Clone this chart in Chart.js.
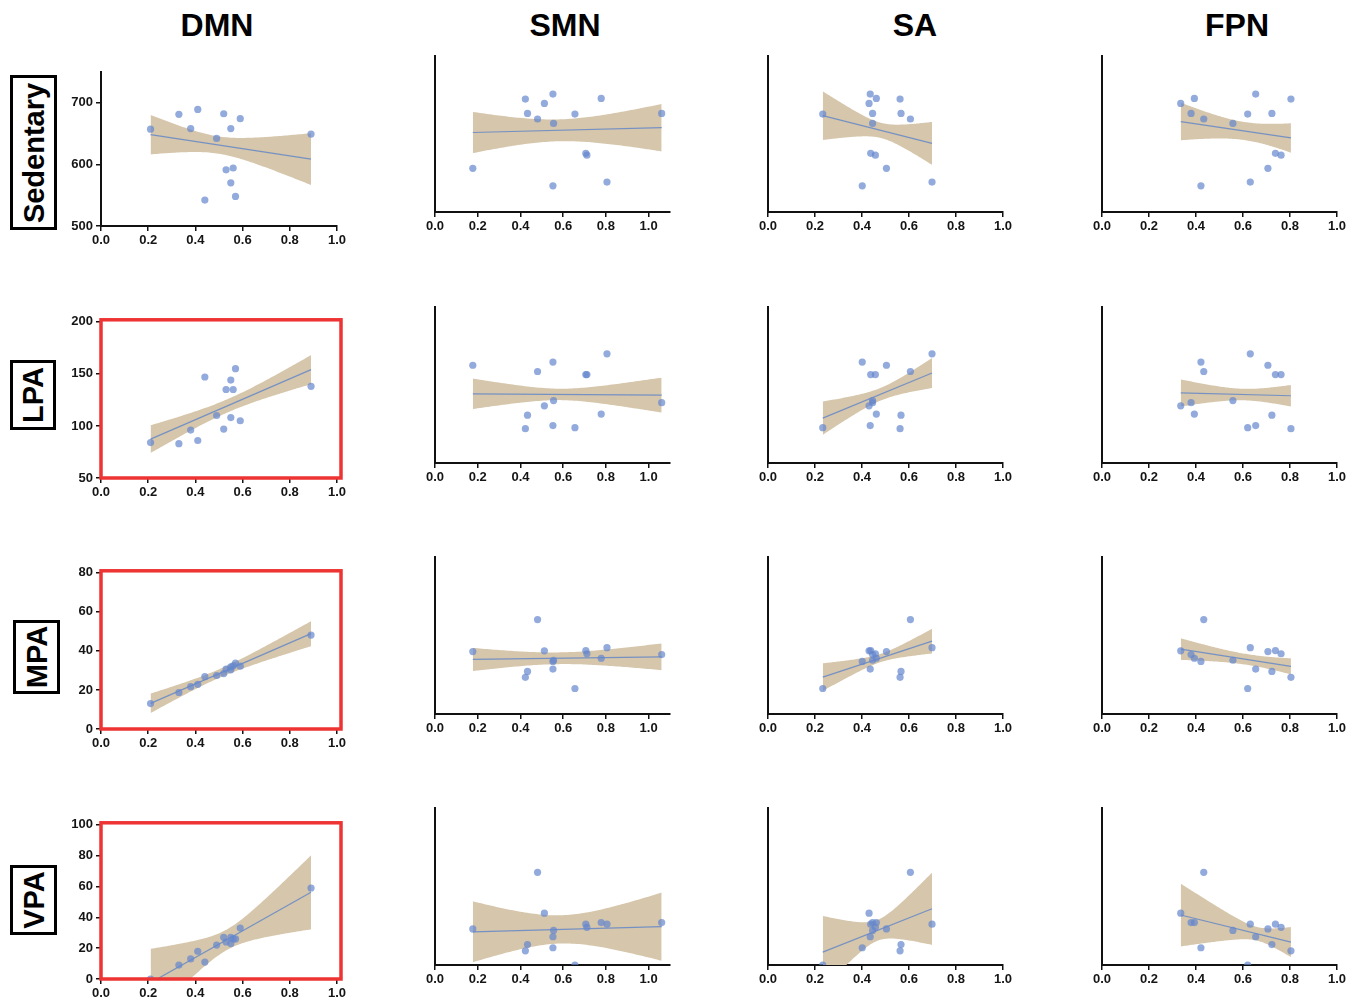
<!DOCTYPE html>
<html><head><meta charset="utf-8">
<script src="https://cdn.jsdelivr.net/npm/chart.js@4.4.1/dist/chart.umd.min.js"></script>
<style>
body{margin:0;background:#fff;width:1354px;height:1002px;position:relative;overflow:hidden;font-family:"Liberation Sans",Arial,sans-serif;}
.title{position:absolute;font-weight:bold;font-size:32px;color:#000;transform:translate(-50%,-50%);white-space:nowrap}
.rowlab{position:absolute;border:3px solid #000;box-sizing:border-box;}
.rowlab span{position:absolute;left:50%;top:50%;transform:translate(-50%,-50%) rotate(-90deg);font-weight:bold;font-size:29px;white-space:nowrap;color:#000}
canvas{position:absolute}
</style></head><body>
<script>
// ---------- DATA ----------
const networks = ['DMN', 'SMN', 'SA', 'FPN'];
const activities = ['Sedentary', 'LPA', 'MPA', 'VPA'];
// functional connectivity per participant (same participant order in every array)
const fcDMN = [0.21, 0.33, 0.38, 0.41, 0.44, 0.49, 0.52, 0.53, 0.55, 0.55, 0.56, 0.57, 0.59, 0.89];
const fcSMN = [0.655, 0.423, 0.433, 0.552, 0.552, 0.555, 0.778, 0.711, 1.061, 0.177, 0.706, 0.805, 0.512, 0.48];
const fcSA  = [0.233, 0.562, 0.566, 0.435, 0.401, 0.445, 0.461, 0.457, 0.445, 0.504, 0.437, 0.698, 0.43, 0.606];
const fcFPN = [0.62, 0.804, 0.723, 0.654, 0.421, 0.557, 0.393, 0.762, 0.379, 0.706, 0.738, 0.631, 0.335, 0.433];
// activity minutes per participant
const sedentary = [657, 681, 658, 689, 542, 642, 682, 591, 658, 570, 594, 548, 674, 649];
const lpa = [84, 83, 96, 86, 147, 110, 97, 135, 108, 144, 135, 155, 105, 138];
const mpa = [13, 18.7, 21.7, 22.9, 26.8, 27.4, 28.4, 30.7, 30.3, 31.8, 32.3, 33.8, 32.2, 48.1];
const vpa = [0, 9, 13, 18, 11, 22, 27, 24, 27, 23, 26, 26, 33, 59];
// confidence-band half-widths (rows: activities, cols: networks)
// at the lowest x, at the mean x, and at the highest x of each panel
const bandLeft  = [[32, 33, 39, 30], [13.3, 14.6, 16, 13], [5, 5.9, 7, 5.5], [22, 19.4, 23, 20]];
const bandMid   = [[14, 17.6, 12.2, 14.7], [6.5, 5.5, 6.1, 5.6], [2.2, 3, 2.1, 2.8], [7, 9, 6.7, 6.4]];
const bandRight = [[42, 38, 34.4, 23.5], [14, 16.8, 14.4, 10.4], [6.4, 6.8, 6.3, 4.1], [24, 21.7, 23, 9.6]];
// y-axis ranges and tick steps per activity row
const yMin = [500, 50, 0, 0];
const yMax = [750, 200, 80, 100];
const yStep = [100, 50, 20, 20];
// x-axis maxima per network column
const xMax = [1.0, 1.1, 1.0, 1.0];
// highlighted (red-framed) panels: [row, col]
const highlighted = [[1, 0], [2, 0], [3, 0]];

// ---------- LAYOUT ----------
const fcSeries = [fcDMN, fcSMN, fcSA, fcFPN];
const actSeries = [sedentary, lpa, mpa, vpa];
const colGeom = [{L:101, R:337}, {L:435, R:670.4}, {L:768, R:1003}, {L:1102, R:1337}];
const rowGeomFirst = [{T:71, B:226}, {T:321, B:478}, {T:572, B:729}, {T:824, B:979}];
const rowGeomOther = [{T:56, B:212}, {T:307, B:463}, {T:557, B:714}, {T:808, B:965}];
const titlePos = [{x:217, y:25}, {x:565, y:25}, {x:915, y:25}, {x:1237, y:25}];
const rowLab = [{l:10, t:75, w:47, h:155}, {l:10, t:360, w:46, h:70}, {l:13, t:620, w:47, h:74}, {l:10, t:865, w:47, h:70}];

networks.forEach((n, i) => {
  const d = document.createElement('div');
  d.className = 'title'; d.textContent = n;
  d.style.left = titlePos[i].x + 'px'; d.style.top = titlePos[i].y + 'px';
  document.body.appendChild(d);
});
activities.forEach((a, i) => {
  const d = document.createElement('div');
  d.className = 'rowlab';
  const g = rowLab[i];
  d.style.left = g.l + 'px'; d.style.top = g.t + 'px'; d.style.width = g.w + 'px'; d.style.height = g.h + 'px';
  const s = document.createElement('span'); s.textContent = a; d.appendChild(s);
  document.body.appendChild(d);
});

function regress(xs, ys, hL, hM, hR) {
  const n = xs.length;
  const mx = xs.reduce((a, b) => a + b, 0) / n;
  const my = ys.reduce((a, b) => a + b, 0) / n;
  let sxx = 0, sxy = 0;
  for (let i = 0; i < n; i++) { sxx += (xs[i] - mx) ** 2; sxy += (xs[i] - mx) * (ys[i] - my); }
  const b = sxy / sxx, a = my - b * mx;
  const x0 = Math.min(...xs), x1 = Math.max(...xs);
  // half-width squared varies quadratically (hyperbolic band) through the three read widths
  const L2 = hL * hL, M2 = hM * hM, R2 = hR * hR;
  const hw = x => {
    const f = L2 * ((x - mx) * (x - x1)) / ((x0 - mx) * (x0 - x1))
            + M2 * ((x - x0) * (x - x1)) / ((mx - x0) * (mx - x1))
            + R2 * ((x - x0) * (x - mx)) / ((x1 - x0) * (x1 - mx));
    return Math.sqrt(Math.max(f, 0.25 * M2));
  };
  const up = [], lo = [];
  const steps = 80;
  for (let k = 0; k <= steps; k++) {
    const x = x0 + (x1 - x0) * k / steps;
    const yh = a + b * x;
    const h = hw(x);
    up.push({x, y: yh + h}); lo.push({x, y: yh - h});
  }
  return {line: [{x: x0, y: a + b * x0}, {x: x1, y: a + b * x1}], up, lo};
}

const redBox = {
  id: 'redBox',
  afterDraw(chart, args, opts) {
    if (!opts.on) return;
    const {left, top, right, bottom} = chart.chartArea;
    const ctx = chart.ctx;
    ctx.save();
    ctx.strokeStyle = '#ee3333';
    ctx.lineWidth = 3.5;
    ctx.strokeRect(left, top - 2, right - left + 4, bottom - top + 2);
    ctx.restore();
  }
};

const YW = 45, XH = 32, PT = 10, PR = 16;
const tickFont = {family: '"Liberation Sans", Arial, sans-serif', size: 13, weight: 'bold'};

for (let r = 0; r < 4; r++) {
  for (let c = 0; c < 4; c++) {
    const cg = colGeom[c];
    const rg = c === 0 ? rowGeomFirst[r] : rowGeomOther[r];
    const cv = document.createElement('canvas');
    const W = (cg.R - cg.L) + YW + PR, H = (rg.B - rg.T) + PT + XH;
    cv.width = Math.round(W); cv.height = Math.round(H);
    cv.style.left = (cg.L - YW) + 'px'; cv.style.top = (rg.T - PT) + 'px';
    cv.style.width = Math.round(W) + 'px'; cv.style.height = Math.round(H) + 'px';
    document.body.appendChild(cv);
    const xs = fcSeries[c], ys = actSeries[r];
    const reg = regress(xs, ys, bandLeft[r][c], bandMid[r][c], bandRight[r][c]);
    const pts = xs.map((x, i) => ({x, y: ys[i]}));
    const isRed = highlighted.some(h => h[0] === r && h[1] === c);
    const step = yStep[r], ymin = yMin[r], ymax = yMax[r], xmax = xMax[c];
    new Chart(cv, {
      type: 'scatter',
      data: {
        datasets: [
          {data: pts, pointRadius: 3.6, pointHoverRadius: 3.6, backgroundColor: 'rgba(100,134,205,0.7)', borderWidth: 0, showLine: false},
          {data: reg.line, showLine: true, borderColor: 'rgba(112,142,196,0.95)', borderWidth: 1.2, pointRadius: 0, fill: false},
          {data: reg.up, showLine: true, borderWidth: 0, borderColor: 'rgba(0,0,0,0)', pointRadius: 0, fill: false},
          {data: reg.lo, showLine: true, borderWidth: 0, borderColor: 'rgba(0,0,0,0)', pointRadius: 0, fill: '-1', backgroundColor: 'rgb(214,198,171)'}
        ]
      },
      options: {
        responsive: false, animation: false, devicePixelRatio: 1,
        layout: {padding: {top: PT, right: PR, left: 0, bottom: 0}},
        plugins: {legend: {display: false}, tooltip: {enabled: false}, redBox: {on: isRed}},
        scales: {
          x: {
            type: 'linear', min: 0, max: xmax,
            afterFit(s) { s.height = XH; },
            afterBuildTicks(s) {
              const t = [];
              for (let v = 0; v <= xmax + 1e-9; v = Math.round((v + 0.2) * 10) / 10) t.push({value: v});
              s.ticks = t;
            },
            ticks: {stepSize: 0.2, color: '#151515', font: tickFont, padding: 2, maxRotation: 0, autoSkip: false,
              callback: v => Number(v).toFixed(1)},
            grid: {display: true, drawOnChartArea: false, drawTicks: true, tickLength: 5, color: '#111', lineWidth: 1.5},
            border: {display: true, color: '#111', width: 2}
          },
          y: {
            type: 'linear', min: ymin, max: ymax,
            afterFit(s) { s.width = YW; },
            afterBuildTicks(s) {
              const t = [];
              for (let v = ymin; v <= ymax + 1e-9; v += step) t.push({value: v});
              s.ticks = t;
            },
            ticks: {display: c === 0, stepSize: step, color: '#151515', font: tickFont, padding: 3},
            grid: {display: c === 0, drawOnChartArea: false, drawTicks: c === 0, tickLength: 5, color: '#111', lineWidth: 1.5},
            border: {display: true, color: '#111', width: 2}
          }
        }
      },
      plugins: [redBox]
    });
  }
}
</script>
</body></html>
